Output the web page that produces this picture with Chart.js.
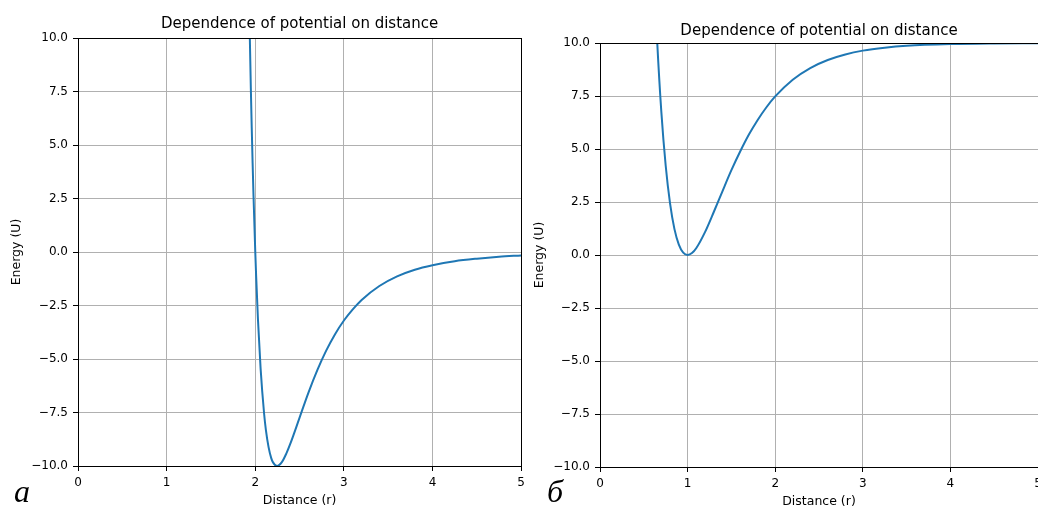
<!DOCTYPE html>
<html lang="en">
<head>
<meta charset="UTF-8">
<title>Dependence of potential on distance</title>
<script src="https://cdn.jsdelivr.net/npm/chart.js"></script>
<style>
  body { margin: 0; background: #fff; overflow: hidden; }
  #wrap { position: relative; width: 1038px; height: 506px; overflow: hidden; }
  canvas { position: absolute; top: 0; }
  .tag { position: absolute; font-family: 'Liberation Serif', serif; font-style: italic; font-size: 32px; line-height: 1; color: #000; }
</style>
</head>
<body>
<div id="wrap">
  <canvas id="left" width="530" height="506" style="left:0"></canvas>
  <canvas id="right" width="600" height="506" style="left:530px"></canvas>
  <div class="tag" style="left:14px; top:475px">а</div>
  <div class="tag" style="left:547px; top:475px">б</div>
</div>
<script>
  // values
  var ljR = [1.90, 1.93, 1.95, 1.96, 1.97, 1.98, 2.00, 2.01, 2.03, 2.06, 2.10, 2.12, 2.15, 2.18, 2.20, 2.245,
             2.30, 2.35, 2.40, 2.50, 2.60, 2.70, 2.80, 2.90, 3.00, 3.10, 3.20, 3.40, 3.60, 3.80, 4.00, 4.25, 4.50, 4.75, 5.00];
  var ljU = [19.6, 11.8, 7.64, 5.82, 4.16, 2.64, 0, -1.14, -3.13, -5.44, -7.57, -8.32, -9.12, -9.63, -9.83, -10.0,
             -9.82, -9.42, -8.91, -7.74, -6.57, -5.52, -4.61, -3.84, -3.20, -2.68, -2.24, -1.59, -1.14, -0.83, -0.62, -0.43, -0.31, -0.22, -0.16];

  var morseR = [0.60, 0.65, 0.70, 0.75, 0.80, 0.85, 0.90, 0.95, 1.00, 1.05, 1.10, 1.20, 1.30, 1.40, 1.50,
                1.60, 1.70, 1.80, 1.90, 2.00, 2.20, 2.40, 2.60, 2.80, 3.00, 3.25, 3.50, 4.00, 4.50, 5.00];
  var morseU = [15.0, 10.3, 6.76, 4.21, 2.42, 1.22, 0.49, 0.11, 0, 0.09, 0.33, 1.09, 2.04, 3.03, 4.00,
                4.88, 5.68, 6.37, 6.97, 7.48, 8.27, 8.82, 9.20, 9.46, 9.64, 9.78, 9.87, 9.95, 9.98, 9.99];

  var xMin = 0, xMax = 5, xStep = 1;
  var yMin = -10, yMax = 10, yStep = 2.5;
  var titleText = 'Dependence of potential on distance';
  var xTitle = 'Distance (r)';
  var yTitle = 'Energy (U)';

  Chart.defaults.font.family = "'DejaVu Sans', sans-serif";
  Chart.defaults.color = '#000';

  // matplotlib style box around the axes, title centred over the plot area
  var frame = {
    id: 'frame',
    afterLayout: function(chart) {
      if (chart.titleBlock) {
        chart.titleBlock.left = chart.chartArea.left;
        chart.titleBlock.right = chart.chartArea.right;
      }
    },
    afterDatasetsDraw: function(chart) {
      var a = chart.chartArea, ctx = chart.ctx;
      ctx.save();
      ctx.strokeStyle = '#000';
      ctx.lineWidth = 1;
      ctx.strokeRect(Math.round(a.left) + 0.5, Math.round(a.top) + 0.5,
                     Math.round(a.right - a.left), Math.round(a.bottom - a.top));
      ctx.restore();
    }
  };

  function makeChart(id, xs, ys, g) {
    var points = xs.map(function(x, i) { return { x: x, y: ys[i] }; });
    return new Chart(document.getElementById(id), {
      type: 'scatter',
      data: {
        datasets: [{
          data: points,
          showLine: true,
          borderColor: '#1f77b4',
          borderWidth: 2,
          pointRadius: 0,
          cubicInterpolationMode: 'monotone'
        }]
      },
      options: {
        responsive: false,
        animation: false,
        devicePixelRatio: 1,
        layout: { padding: { left: 0, right: g.padRight, top: 0, bottom: 0 } },
        plugins: {
          legend: { display: false },
          tooltip: { enabled: false },
          title: {
            display: true,
            text: titleText,
            color: '#000',
            font: { size: 15, weight: 'normal' },
            padding: { top: g.titleTop, bottom: g.titleBottom }
          }
        },
        scales: {
          x: {
            type: 'linear',
            min: xMin, max: xMax,
            afterFit: function(s) { s.height = g.xHeight; },
            ticks: { stepSize: xStep, padding: 5, font: { size: 12 }, color: '#000' },
            grid: { color: '#b0b0b0', lineWidth: 1, tickColor: '#000', tickLength: 5 },
            border: { display: false },
            title: { display: true, text: xTitle, font: { size: 12.5 }, padding: { top: 0, bottom: g.xTitlePad } }
          },
          y: {
            min: yMin, max: yMax,
            afterFit: function(s) { s.width = g.yWidth; },
            ticks: {
              stepSize: yStep, padding: 5, font: { size: 12 }, color: '#000',
              callback: function(v) { return v.toFixed(1).replace('-', '\u2212'); }
            },
            grid: { color: '#b0b0b0', lineWidth: 1, tickColor: '#000', tickLength: 5 },
            border: { display: false },
            title: { display: true, text: yTitle, font: { size: 12.5 }, padding: { top: g.yTitlePad, bottom: 0 } }
          }
        }
      },
      plugins: [frame]
    });
  }

  makeChart('left', ljR, ljU, { yWidth: 78, xHeight: 40, padRight: 7, titleTop: 15, titleBottom: 5, yTitlePad: 9.5, xTitlePad: -2 });
  makeChart('right', morseR, morseU, { yWidth: 70, xHeight: 39, padRight: 92, titleTop: 22, titleBottom: 3, yTitlePad: 2.5, xTitlePad: -3 });
</script>
</body>
</html>
